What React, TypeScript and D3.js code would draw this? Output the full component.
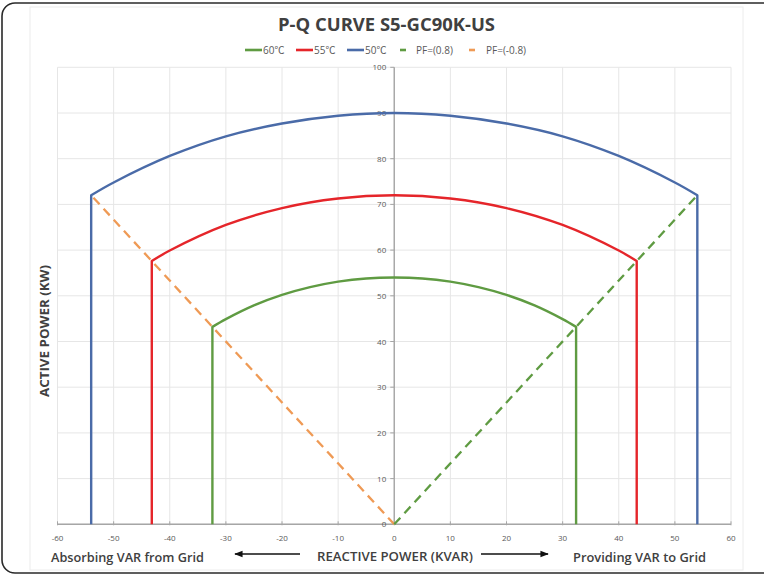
import React from "react";
import * as d3 from "d3";

// ---- data ----
const xTicks = [-60, -50, -40, -30, -20, -10, 0, 10, 20, 30, 40, 50, 60];
const yTicks = [0, 10, 20, 30, 40, 50, 60, 70, 80, 90, 100];

// 50℃ (blue) arc
const blueQ = [-54, -50, -40, -30, -20, -10, 0, 10, 20, 30, 40, 50, 54];
const blueP = [72, 74.8, 80.6, 84.9, 87.7, 89.4, 90, 89.4, 87.7, 84.9, 80.6, 74.8, 72];
// 55℃ (red) arc
const redQ = [-43.2, -40, -30, -20, -10, 0, 10, 20, 30, 40, 43.2];
const redP = [57.6, 59.9, 65.5, 69.2, 71.3, 72, 71.3, 69.2, 65.5, 59.9, 57.6];
// 60℃ (green) arc
const greenQ = [-32.4, -30, -25, -20, -15, -10, -5, 0, 5, 10, 15, 20, 25, 30, 32.4];
const greenP = [43.2, 44.9, 47.9, 50.2, 51.9, 53.1, 53.8, 54, 53.8, 53.1, 51.9, 50.2, 47.9, 44.9, 43.2];
// power factor lines
const pfPosQ = [0, 54];
const pfPosP = [0, 72];
const pfNegQ = [0, -54];
const pfNegP = [0, 72];

const GREEN = "#5f9b42";
const RED = "#e5252a";
const BLUE = "#4a6ba8";
const ORANGE = "#ef9a55";

const x = d3.scaleLinear().domain([-60, 60]).range([57.5, 731]);
const y = d3.scaleLinear().domain([0, 100]).range([524.3, 67.3]);

function curvePath(qs: number[], ps: number[]) {
  const pts: [number, number][] = qs.map((q, i) => [x(q), y(ps[i])]);
  const arc = d3.line().curve(d3.curveCatmullRom.alpha(0.5))(pts) || "";
  const start = `M${x(qs[0])},${y(0)}`;
  const end = `L${x(qs[qs.length - 1])},${y(0)}`;
  return start + arc.replace(/^M/, "L") + end;
}

function straight(qs: number[], ps: number[]) {
  const pts: [number, number][] = qs.map((q, i) => [x(q), y(ps[i])]);
  return d3.line()(pts) || "";
}

export default function App() {
  const font = "'Open Sans', 'Noto Sans CJK SC', sans-serif";
  const series = [
    { q: greenQ, p: greenP, c: GREEN },
    { q: redQ, p: redP, c: RED },
    { q: blueQ, p: blueP, c: BLUE },
  ];
  const legend = [
    { label: "60℃", c: GREEN, dash: false, lx: 245, lw: 17, tx: 263 },
    { label: "55℃", c: RED, dash: false, lx: 296, lw: 17, tx: 314 },
    { label: "50℃", c: BLUE, dash: false, lx: 347, lw: 17, tx: 365 },
    { label: "PF=(0.8)", c: GREEN, dash: true, lx: 400, lw: 6, tx: 416 },
    { label: "PF=(-0.8)", c: ORANGE, dash: true, lx: 469, lw: 6, tx: 486 },
  ];
  return (
    <svg
      width={764}
      height={576}
      style={{ position: "absolute", left: 0, top: 0, background: "#fff" }}
      fontFamily={font}
    >
      {/* outer frame */}
      <rect x={2} y={3} width={790} height={570} rx={13} fill="#fff" stroke="#2a2a2a" strokeWidth={1.6} />
      {/* inner faint panel */}
      <rect x={30} y={7} width={713} height={563} fill="#fff" stroke="#ececec" strokeWidth={1} />

      {/* grid */}
      {xTicks.map((t) => (
        <line key={"gx" + t} x1={x(t)} x2={x(t)} y1={y(0)} y2={y(100)} stroke="#e6e6e6" strokeWidth={1} />
      ))}
      {yTicks.map((t) => (
        <line key={"gy" + t} x1={x(-60)} x2={x(60)} y1={y(t)} y2={y(t)} stroke="#e6e6e6" strokeWidth={1} />
      ))}

      {/* axes */}
      <line x1={x(-60)} x2={x(60)} y1={y(0)} y2={y(0)} stroke="#a6a6a6" strokeWidth={1.4} />
      <line x1={x(0)} x2={x(0)} y1={y(0)} y2={y(100)} stroke="#a6a6a6" strokeWidth={1.4} />
      {xTicks.map((t) => (
        <g key={"xt" + t}>
          <line x1={x(t)} x2={x(t)} y1={y(0) - 3} y2={y(0) + 1} stroke="#a6a6a6" strokeWidth={1} />
          <text x={x(t)} y={y(0) + 17} fontSize={8} fill="#595959" textAnchor="middle">
            {t}
          </text>
        </g>
      ))}
      {yTicks.map((t) => (
        <g key={"yt" + t}>
          <line x1={x(0) - 4} x2={x(0)} y1={y(t)} y2={y(t)} stroke="#a6a6a6" strokeWidth={1} />
          <text x={x(0) - 8} y={y(t) + 3} fontSize={8} fill="#595959" textAnchor="end">
            {t}
          </text>
        </g>
      ))}

      {/* PF lines */}
      <path d={straight(pfNegQ, pfNegP)} fill="none" stroke={ORANGE} strokeWidth={2.3} strokeDasharray="9,6" />
      <path d={straight(pfPosQ, pfPosP)} fill="none" stroke={GREEN} strokeWidth={2.3} strokeDasharray="9,6" />

      {/* curves */}
      {series.map((s, i) => (
        <path key={i} d={curvePath(s.q, s.p)} fill="none" stroke={s.c} strokeWidth={2.4} strokeLinejoin="round" />
      ))}

      {/* title */}
      <text x={386.5} y={31} fontSize={17} fontWeight={700} fill="#404040" textAnchor="middle" textLength={217} lengthAdjust="spacingAndGlyphs">
        P-Q CURVE S5-GC90K-US
      </text>

      {/* legend */}
      {legend.map((l) => (
        <g key={l.label}>
          <line x1={l.lx} x2={l.lx + l.lw} y1={50} y2={50} stroke={l.c} strokeWidth={2.6} />
          <text x={l.tx} y={54} fontSize={10} fill="#595959">
            {l.label}
          </text>
        </g>
      ))}

      {/* y label */}
      <text
        transform="translate(49,331) rotate(-90)"
        fontSize={12}
        fontWeight={700}
        fill="#404040"
        textAnchor="middle"
        textLength={132}
        lengthAdjust="spacingAndGlyphs"
      >
        ACTIVE POWER  (KW)
      </text>

      {/* bottom labels */}
      <text x={51} y={562} fontSize={13} fontWeight={600} fill="#404040" textLength={153} lengthAdjust="spacingAndGlyphs">
        Absorbing VAR from Grid
      </text>
      <text x={317} y={561} fontSize={13} fontWeight={600} fill="#404040" textLength={156} lengthAdjust="spacingAndGlyphs">
        REACTIVE POWER (KVAR)
      </text>
      <text x={573} y={562} fontSize={13} fontWeight={600} fill="#404040" textLength={133} lengthAdjust="spacingAndGlyphs">
        Providing VAR to Grid
      </text>
      <defs>
        <marker id="ah" viewBox="0 0 10 10" refX="9" refY="5" markerWidth="6" markerHeight="6" orient="auto-start-reverse">
          <path d="M0,1 L10,5 L0,9 z" fill="#111" />
        </marker>
      </defs>
      <line x1={300} x2={235} y1={554} y2={554} stroke="#111" strokeWidth={1.4} markerEnd="url(#ah)" />
      <line x1={481} x2={548} y1={554} y2={554} stroke="#111" strokeWidth={1.4} markerEnd="url(#ah)" />
    </svg>
  );
}
